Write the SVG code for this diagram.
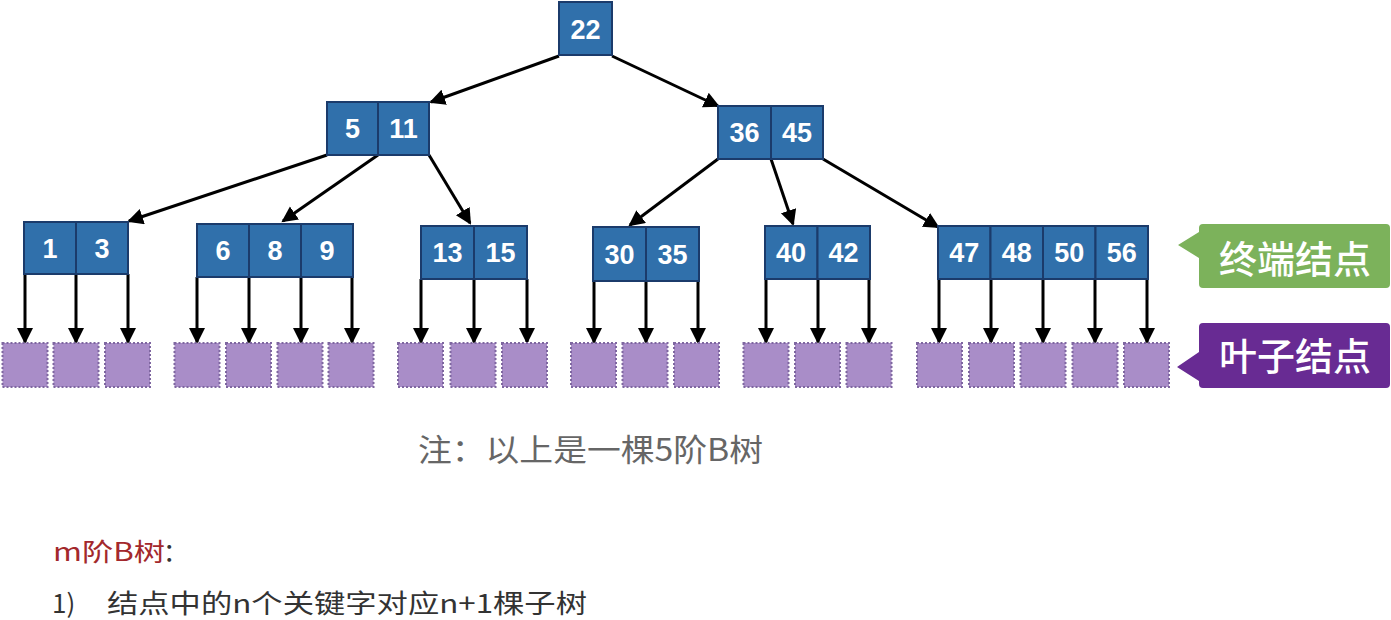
<svg xmlns="http://www.w3.org/2000/svg" width="1391" height="620" viewBox="0 0 1391 620">
<style>
.cell{fill:#3070ab;stroke:#1b3b6b;stroke-width:2}
.k{fill:#fff;font-family:"Liberation Sans",Arial,sans-serif;font-weight:bold;font-size:27px;text-anchor:middle}
.leaf{fill:#a98dc8;stroke:#7e66a0;stroke-width:2;stroke-dasharray:2 2}
.conn{stroke:#000;stroke-width:3;fill:none;marker-end:url(#ah)}
.cjk{font-family:"Noto Sans CJK SC","Liberation Sans",sans-serif}
</style>
<defs>
<marker id="ah" markerUnits="userSpaceOnUse" markerWidth="18" markerHeight="18" refX="14" refY="8" orient="auto">
<path d="M0,0 L16,8 L0,16 z" fill="#000"/>
</marker>
</defs>
<rect width="1391" height="620" fill="#fff"/>

<g id="connectors">
<line class="conn" x1="559" y1="56" x2="431" y2="102"/>
<line class="conn" x1="612" y1="56" x2="718" y2="106"/>
<line class="conn" x1="327" y1="155" x2="129" y2="221"/>
<line class="conn" x1="378" y1="155" x2="283" y2="221"/>
<line class="conn" x1="429" y1="155" x2="470" y2="223"/>
<line class="conn" x1="718" y1="159" x2="630" y2="225"/>
<line class="conn" x1="771" y1="159" x2="793" y2="224"/>
<line class="conn" x1="823" y1="159" x2="938" y2="227"/>
<line class="conn" x1="25" y1="274" x2="25" y2="342"/>
<line class="conn" x1="76" y1="274" x2="76" y2="342"/>
<line class="conn" x1="128" y1="274" x2="128" y2="342"/>
<line class="conn" x1="197" y1="277" x2="197" y2="342"/>
<line class="conn" x1="249" y1="277" x2="249" y2="342"/>
<line class="conn" x1="301" y1="277" x2="301" y2="342"/>
<line class="conn" x1="352" y1="277" x2="352" y2="342"/>
<line class="conn" x1="421" y1="279" x2="421" y2="342"/>
<line class="conn" x1="474" y1="279" x2="474" y2="342"/>
<line class="conn" x1="527" y1="279" x2="527" y2="342"/>
<line class="conn" x1="594" y1="281" x2="594" y2="342"/>
<line class="conn" x1="646" y1="281" x2="646" y2="342"/>
<line class="conn" x1="698" y1="281" x2="698" y2="342"/>
<line class="conn" x1="766" y1="279" x2="766" y2="342"/>
<line class="conn" x1="818" y1="279" x2="818" y2="342"/>
<line class="conn" x1="869" y1="279" x2="869" y2="342"/>
<line class="conn" x1="939" y1="279" x2="939" y2="342"/>
<line class="conn" x1="991" y1="279" x2="991" y2="342"/>
<line class="conn" x1="1043" y1="279" x2="1043" y2="342"/>
<line class="conn" x1="1095" y1="279" x2="1095" y2="342"/>
<line class="conn" x1="1147" y1="279" x2="1147" y2="342"/>
</g>

<g id="n22">
<rect class="cell" x="559" y="2" width="53" height="53"/>
<text class="k" x="585.5" y="38.5" font-size="28">22</text>
</g>
<g id="n5_11">
<rect class="cell" x="327" y="102" width="51" height="53"/>
<rect class="cell" x="378" y="102" width="51" height="53"/>
<text class="k" x="352.5" y="138" font-size="28">5</text>
<text class="k" x="403.5" y="138" font-size="28">11</text>
</g>
<g id="n36_45">
<rect class="cell" x="718" y="106" width="53" height="53"/>
<rect class="cell" x="771" y="106" width="52" height="53"/>
<text class="k" x="744.5" y="142" font-size="28">36</text>
<text class="k" x="797" y="142" font-size="28">45</text>
</g>
<g id="n1_3">
<rect class="cell" x="24" y="222" width="52" height="52"/>
<rect class="cell" x="76" y="222" width="52" height="52"/>
<text class="k" x="50" y="257.5">1</text>
<text class="k" x="102" y="257.5">3</text>
</g>
<g id="n6_8_9">
<rect class="cell" x="197" y="224" width="52" height="53"/>
<rect class="cell" x="249" y="224" width="52" height="53"/>
<rect class="cell" x="301" y="224" width="52" height="53"/>
<text class="k" x="223" y="260">6</text>
<text class="k" x="275" y="260">8</text>
<text class="k" x="327" y="260">9</text>
</g>
<g id="n13_15">
<rect class="cell" x="421" y="226" width="53" height="53"/>
<rect class="cell" x="474" y="226" width="53" height="53"/>
<text class="k" x="447.5" y="262">13</text>
<text class="k" x="500.5" y="262">15</text>
</g>
<g id="n30_35">
<rect class="cell" x="593" y="227" width="53" height="54"/>
<rect class="cell" x="646" y="227" width="53" height="54"/>
<text class="k" x="619.5" y="264">30</text>
<text class="k" x="672.5" y="264">35</text>
</g>
<g id="n40_42">
<rect class="cell" x="765" y="226" width="52.5" height="53"/>
<rect class="cell" x="817.5" y="226" width="52.5" height="53"/>
<text class="k" x="791" y="262">40</text>
<text class="k" x="843.5" y="262">42</text>
</g>
<g id="n47_56">
<rect class="cell" x="938" y="226" width="52.5" height="53"/>
<rect class="cell" x="990.5" y="226" width="52.5" height="53"/>
<rect class="cell" x="1043" y="226" width="52.5" height="53"/>
<rect class="cell" x="1095.5" y="226" width="52.5" height="53"/>
<text class="k" x="964.25" y="262">47</text>
<text class="k" x="1016.75" y="262">48</text>
<text class="k" x="1069.25" y="262">50</text>
<text class="k" x="1121.75" y="262">56</text>
</g>

<g id="leaves">
<rect class="leaf" x="2.5" y="343" width="45" height="44"/>
<rect class="leaf" x="53.5" y="343" width="45" height="44"/>
<rect class="leaf" x="105" y="343" width="45" height="44"/>
<rect class="leaf" x="174.5" y="343" width="45" height="44"/>
<rect class="leaf" x="226" y="343" width="45" height="44"/>
<rect class="leaf" x="277.5" y="343" width="45" height="44"/>
<rect class="leaf" x="328.5" y="343" width="45" height="44"/>
<rect class="leaf" x="398" y="343" width="45" height="44"/>
<rect class="leaf" x="450.5" y="343" width="45" height="44"/>
<rect class="leaf" x="502" y="343" width="45" height="44"/>
<rect class="leaf" x="571" y="343" width="45" height="44"/>
<rect class="leaf" x="622.5" y="343" width="45" height="44"/>
<rect class="leaf" x="674" y="343" width="45" height="44"/>
<rect class="leaf" x="743.5" y="343" width="45" height="44"/>
<rect class="leaf" x="795" y="343" width="45" height="44"/>
<rect class="leaf" x="846.5" y="343" width="45" height="44"/>
<rect class="leaf" x="917" y="343" width="45" height="44"/>
<rect class="leaf" x="969" y="343" width="45" height="44"/>
<rect class="leaf" x="1020.5" y="343" width="45" height="44"/>
<rect class="leaf" x="1072.5" y="343" width="45" height="44"/>
<rect class="leaf" x="1124" y="343" width="45" height="44"/>
</g>

<g id="label_terminal">
<path d="M1203,224 H1386 Q1390,224 1390,228 V284 Q1390,288 1386,288 H1203 Q1199,288 1199,284 V258 L1178,245 L1199,232 V228 Q1199,224 1203,224 Z" fill="#7cb25b"/>
<text class="cjk" x="1295" y="273" font-size="38" font-weight="500" fill="#fff" text-anchor="middle">终端结点</text>
</g>
<g id="label_leaf">
<path d="M1203,323 H1386 Q1390,323 1390,327 V384 Q1390,388 1386,388 H1203 Q1199,388 1199,384 V381 L1177,367 L1199,352 V327 Q1199,323 1203,323 Z" fill="#682b93"/>
<text class="cjk" x="1295" y="370" font-size="38" font-weight="500" fill="#fff" text-anchor="middle">叶子结点</text>
</g>

<g id="notes">
<text class="cjk" x="418" y="461" font-size="31" fill="#666" textLength="345" lengthAdjust="spacingAndGlyphs">注：以上是一棵5阶B树</text>
<text class="cjk" x="53" y="561" font-size="25" fill="#a3282c" textLength="112" lengthAdjust="spacingAndGlyphs">m阶B树</text>
<text class="cjk" x="163" y="561" font-size="25" fill="#333">：</text>
<text class="cjk" x="52" y="613" font-size="26" fill="#333">1)</text>
<text class="cjk" x="107" y="613" font-size="26" fill="#333" textLength="480" lengthAdjust="spacingAndGlyphs">结点中的n个关键字对应n+1棵子树</text>
</g>
</svg>
